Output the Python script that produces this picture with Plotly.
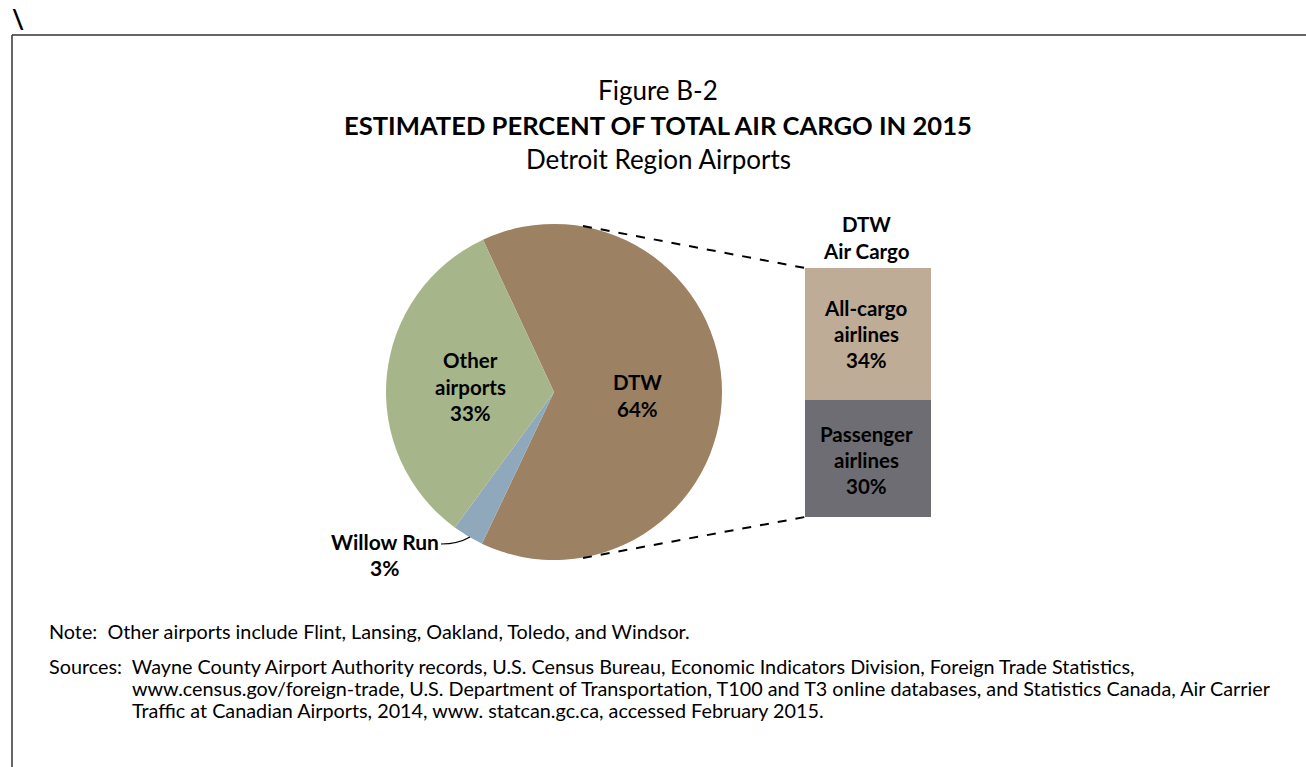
import plotly.graph_objects as go

W, H = 1306, 767
OFF = 0  # body margin removed by post_script
def px(x): return (x - OFF) / W
def py(y): return 1 - (y - OFF) / H

# ---- data ----
pie_labels = ["DTW", "Willow Run", "Other airports"]
pie_values = [64, 3, 33]
pie_colors = ["#9C8163", "#8FA8BC", "#A7B68A"]

bar_labels = ["Passenger airlines", "All-cargo airlines"]
bar_values = [30, 34]
bar_colors = ["#6E6D73", "#BEAC96"]

FONT = "Lato"
# pie geometry (pixels)
cx, cy, R = 554, 392, 168
bx0, bx1, by_top, by_bot = 805, 931, 268, 517

fig = go.Figure()
fig.add_trace(go.Pie(
    labels=pie_labels, values=pie_values, sort=False, direction="clockwise",
    rotation=-25, marker=dict(colors=pie_colors, line=dict(width=0)),
    textinfo="none", hoverinfo="label+percent", showlegend=False,
    domain=dict(x=[px(cx - R), px(cx + R)], y=[py(cy + R), py(cy - R)]),
))

for lab, v, c in zip(bar_labels, bar_values, bar_colors):
    fig.add_trace(go.Bar(x=[0], y=[v], marker=dict(color=c, line=dict(width=0)),
                         width=1, name=lab, showlegend=False, xaxis="x", yaxis="y"))

total = sum(bar_values)
fig.update_layout(
    barmode="stack",
    width=W, height=H, margin=dict(l=0, r=0, t=0, b=0),
    paper_bgcolor="white", plot_bgcolor="rgba(0,0,0,0)",
    font=dict(family=FONT, color="black"),
    xaxis=dict(domain=[px(bx0), px(bx1)], range=[-0.5, 0.5], visible=False, fixedrange=True),
    yaxis=dict(domain=[py(by_bot), py(by_top)], range=[0, total], visible=False, fixedrange=True),
)

ann = []
def text(x, y, s, size, bold=False, xanchor="center"):
    ann.append(dict(x=px(x), y=py(y), xref="paper", yref="paper", text=("<b>%s</b>" % s) if bold else s,
                    showarrow=False, xanchor=xanchor, yanchor="middle",
                    font=dict(family=FONT, size=size, color="black")))

LS = 20.5
# titles
text(658, 90, "Figure B-2", 26)
text(658, 125, "ESTIMATED PERCENT OF TOTAL AIR CARGO IN 2015", 25.6, bold=True)
text(658, 159, "Detroit Region Airports", 26)

# pie labels
for i, s in enumerate(["Other", "airports", "%d%%" % pie_values[2]]):
    text(470, 360 + i * 26.5, s, LS, bold=True)
for i, s in enumerate(["DTW", "%d%%" % pie_values[0]]):
    text(637, 382 + i * 26.5, s, LS, bold=True)
text(385, 541, "Willow Run", 21, bold=True)
text(385, 567, "%d%%" % pie_values[1], 21, bold=True)

# bar labels
text(866, 224, "DTW", LS, bold=True)
text(866, 251, "Air Cargo", LS, bold=True)
for i, s in enumerate(["All-cargo", "airlines", "%d%%" % bar_values[1]]):
    text(866, 308 + i * 26, s, LS, bold=True)
for i, s in enumerate(["Passenger", "airlines", "%d%%" % bar_values[0]]):
    text(866, 434 + i * 26, s, LS, bold=True)

# notes
NS = 19.8
text(47, 631, "Note:  Other airports include Flint, Lansing, Oakland, Toledo, and Windsor.", NS, xanchor="left")
text(47, 666, "Sources:  Wayne County Airport Authority records, U.S. Census Bureau, Economic Indicators Division, Foreign Trade Statistics,", NS, xanchor="left")
text(130, 688, "www.census.gov/foreign-trade, U.S. Department of Transportation, T100 and T3 online databases, and Statistics Canada, Air Carrier", NS, xanchor="left")
text(130, 710, "Traffic at Canadian Airports, 2014, www. statcan.gc.ca, accessed February 2015.", NS, xanchor="left")

text(18, 19, "\\", 26, bold=True)
fig.update_layout(annotations=ann)

shapes = [
    dict(type="line", xref="paper", yref="paper", x0=px(12), y0=py(35), x1=1, y1=py(35),
         line=dict(color="#333333", width=1.5)),
    dict(type="line", xref="paper", yref="paper", x0=px(12), y0=py(35), x1=px(12), y1=0,
         line=dict(color="#333333", width=1.5)),
    dict(type="line", xref="paper", yref="paper", x0=px(583), y0=py(226), x1=px(bx0), y1=py(by_top),
         line=dict(color="black", width=2, dash="dash")),
    dict(type="line", xref="paper", yref="paper", x0=px(583), y0=py(558), x1=px(bx0), y1=py(by_bot),
         line=dict(color="black", width=2, dash="dash")),
    dict(type="path", xref="paper", yref="paper",
         path="M %f,%f Q %f,%f %f,%f" % (px(441), py(544), px(458), py(544), px(470), py(537)),
         line=dict(color="black", width=1.2)),
]
fig.update_layout(shapes=shapes)

fig.write_html("out.html", config={"displayModeBar": False},
               post_script="document.body.style.margin='0px';document.body.style.overflow='hidden';")
